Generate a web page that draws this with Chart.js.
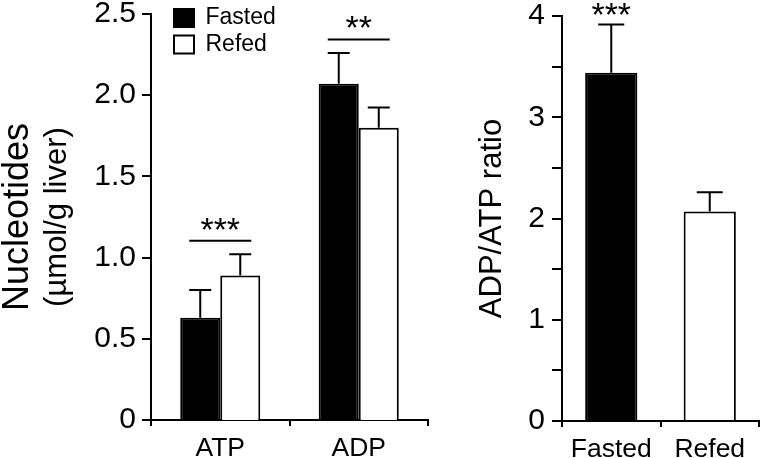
<!DOCTYPE html>
<html><head><meta charset="utf-8">
<script src="https://cdn.jsdelivr.net/npm/chart.js@4.4.1/dist/chart.umd.min.js"></script>
<style>
html,body{margin:0;padding:0;background:#fff;}
#wrap{position:relative;width:760px;height:458px;overflow:hidden;}
canvas{position:absolute;left:0;top:0;}
</style></head><body>
<div id="wrap"><canvas id="c1" width="760" height="458"></canvas><canvas id="c2" width="760" height="458"></canvas></div>
<script>
// ---- data ----
const categories = ['ATP', 'ADP'];
const seriesNames = ['Fasted', 'Refed'];
const fastedValues = [0.63, 2.07];
const fastedErrors = [0.17, 0.19];
const refedValues = [0.89, 1.80];
const refedErrors = [0.13, 0.125];
const leftSignif = ['***', '**'];
const leftTickValues = [0, 0.5, 1.0, 1.5, 2.0, 2.5];
const leftTickLabels = ['0', '0.5', '1.0', '1.5', '2.0', '2.5'];

const ratioCategories = ['Fasted', 'Refed'];
const ratioValues = [3.44, 2.07];
const ratioErrors = [0.475, 0.19];
const ratioSignif = ['***', ''];
const rightTickValues = [0, 0.5, 1, 1.5, 2, 2.5, 3, 3.5, 4];
const rightTickLabels = ['0', '', '1', '', '2', '', '3', '', '4'];

// ---- styling ----
const FAM = "'Liberation Sans', Arial, Helvetica, sans-serif";
Chart.defaults.font.family = FAM;
Chart.defaults.color = '#000';

const errorBarPlugin = {
  id: 'errbars',
  afterDatasetsDraw(chart, args, opts) {
    const ctx = chart.ctx, y = chart.scales.y;
    chart.data.datasets.forEach((ds, i) => {
      const meta = chart.getDatasetMeta(i);
      meta.data.forEach((bar, j) => {
        const v = ds.data[j], e = ds.errors[j];
        const yTop = y.getPixelForValue(v + e), yBar = y.getPixelForValue(v);
        ctx.save();
        ctx.strokeStyle = '#000'; ctx.lineWidth = 2;
        ctx.beginPath();
        ctx.moveTo(bar.x, yBar); ctx.lineTo(bar.x, yTop);
        ctx.moveTo(bar.x - opts.cap, yTop); ctx.lineTo(bar.x + opts.cap, yTop);
        ctx.stroke();
        ctx.restore();
      });
    });
  }
};

const signifPlugin = {
  id: 'signif',
  afterDraw(chart, args, opts) {
    const ctx = chart.ctx, x = chart.scales.x, y = chart.scales.y;
    opts.marks.forEach((txt, j) => {
      if (!txt) return;
      let topPx = Infinity;
      chart.data.datasets.forEach(ds => {
        if (ds.data[j] == null) return;
        topPx = Math.min(topPx, y.getPixelForValue(ds.data[j] + ds.errors[j]));
      });
      const cx = x.getPixelForValue(j);
      ctx.save();
      ctx.strokeStyle = '#000'; ctx.fillStyle = '#000'; ctx.lineWidth = 2;
      let starY;
      if (opts.bracket) {
        const ly = topPx - opts.lineGap;
        ctx.beginPath();
        ctx.moveTo(cx - opts.halfWidth, ly); ctx.lineTo(cx + opts.halfWidth, ly);
        ctx.stroke();
        starY = ly - opts.starGap;
      } else {
        starY = topPx - opts.starGap;
      }
      ctx.font = opts.size + 'px ' + FAM;
      ctx.textAlign = 'center'; ctx.textBaseline = 'middle';
      ctx.fillText(txt, cx, starY + 0.23 * opts.size);
      ctx.restore();
    });
  }
};

const legendShift = {
  id: 'legendShift',
  afterLayout(chart, args, opts) {
    if (chart.legend) { chart.legend.left = opts.left; chart.legend.top = opts.top; }
  }
};

function yScale(min, max, vals, labels, title, titleSize, lineH, titlePad, tickLen, pad, width, weight) {
  return {
    min, max, weight,
    afterBuildTicks: s => { s.ticks = vals.map(v => ({ value: v })); },
    ticks: {
      callback: (v, i) => labels[i],
      font: { size: 30, lineHeight: 1.0 }, color: '#000', padding: pad, autoSkip: false
    },
    grid: { drawOnChartArea: false, tickLength: tickLen, lineWidth: 2, color: '#000' },
    border: { color: '#000', width: 2 },
    title: { display: true, text: title, font: { size: titleSize, lineHeight: lineH }, padding: { top: titlePad, bottom: 0 }, color: '#000' },
    afterFit: s => { s.width = width; s.paddingTop = 0; s.paddingBottom = 0; }
  };
}
function xScale(height) {
  return {
    grid: { offset: true, drawOnChartArea: false, tickLength: 6, lineWidth: 2, color: '#000' },
    border: { color: '#000', width: 2 },
    ticks: { font: { size: 26.5 }, color: '#000', padding: 7 },
    afterFit: s => { s.height = height; s.paddingLeft = 0; s.paddingRight = 0; }
  };
}

new Chart(document.getElementById('c1'), {
  type: 'bar',
  data: {
    labels: categories,
    datasets: [
      { label: seriesNames[0], data: fastedValues, errors: fastedErrors,
        backgroundColor: '#000', borderColor: '#000', borderWidth: 2,
        barPercentage: 1.0, categoryPercentage: 0.578 },
      { label: seriesNames[1], data: refedValues, errors: refedErrors,
        backgroundColor: '#fff', borderColor: '#000', borderWidth: 2,
        barPercentage: 1.0, categoryPercentage: 0.578 }
    ]
  },
  options: {
    responsive: false, animation: false, events: [],
    layout: { padding: { left: 0, right: 332, top: 14, bottom: 0 } },
    scales: {
      x: xScale(38),
      yT: {
        type: 'linear', position: 'left', weight: 10, min: 0, max: 2.5,
        ticks: { display: false }, grid: { display: false }, border: { display: false },
        title: { display: true, text: 'Nucleotides', font: { size: 36, lineHeight: 1.0 }, padding: 0, color: '#000' },
        afterFit: s => { s.width = 36; s.paddingTop = 0; s.paddingBottom = 0; }
      },
      y: yScale(0, 2.5, leftTickValues, leftTickLabels, '(µmol/g liver)', 31, 1.2, 3, 9, 6, 115, 0)
    },
    plugins: {
      tooltip: { enabled: false },
      legend: {
        display: true, position: 'chartArea', align: 'start',
        labels: { boxWidth: 20, boxHeight: 18, padding: 3.5, font: { size: 23 }, color: '#000' }
      },
      legendShift: { left: 170.5, top: 3 },
      errbars: { cap: 11 },
      signif: { marks: leftSignif, bracket: true, lineGap: 13.5, starGap: 17.5, halfWidth: 31, size: 34 }
    }
  },
  plugins: [errorBarPlugin, signifPlugin, legendShift]
});

new Chart(document.getElementById('c2'), {
  type: 'bar',
  data: {
    labels: ratioCategories,
    datasets: [
      { label: 'ADP/ATP ratio', data: ratioValues, errors: ratioErrors,
        backgroundColor: ['#000', '#fff'], borderColor: '#000', borderWidth: 2,
        barPercentage: 1.0, categoryPercentage: 0.53 }
    ]
  },
  options: {
    responsive: false, animation: false, events: [],
    layout: { padding: { left: 474, right: 1, top: 16, bottom: 0 } },
    scales: {
      x: xScale(37),
      y: yScale(0, 4, rightTickValues, rightTickLabels, 'ADP/ATP ratio', 31, 1.2, 0, 10, 7, 88, 0)
    },
    plugins: {
      tooltip: { enabled: false },
      legend: { display: false },
      errbars: { cap: 13 },
      signif: { marks: ratioSignif, bracket: false, starGap: 16, size: 34 }
    }
  },
  plugins: [errorBarPlugin, signifPlugin]
});
</script>
</body></html>
